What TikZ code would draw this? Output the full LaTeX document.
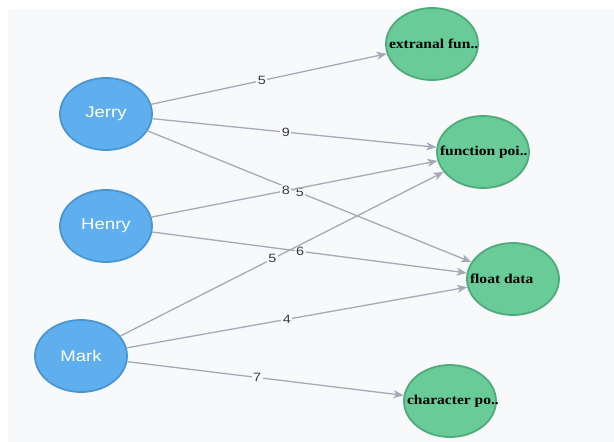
\documentclass[tikz,border=0pt]{standalone}
\usepackage{fontspec}
\usepackage{tikz}
\usetikzlibrary{shapes.geometric, arrows.meta, positioning}
\newfontfamily\personfont[FakeStretch=1.2]{Liberation Sans}
\newfontfamily\datafont[FakeStretch=1.15]{Liberation Serif}
\newcommand{\overhang}[1]{\makebox[0pt][l]{\hspace{-43pt}#1}}
\definecolor{canvasbg}{HTML}{F8F9FB}
\definecolor{personfill}{HTML}{5FAFEE}
\definecolor{personline}{HTML}{4A96D2}
\definecolor{datafill}{HTML}{68CB98}
\definecolor{dataline}{HTML}{4FAB7B}
\definecolor{linkgray}{HTML}{A7A9B6}
\definecolor{weighttext}{HTML}{3A3A3A}
\tikzset{
  person/.style={ellipse, draw=personline, fill=personfill, line width=1.8pt,
    minimum width=92pt, minimum height=72pt, inner sep=0pt, text=white,
    font=\personfont\fontsize{15.5}{15.5}\selectfont},
  datatype/.style={ellipse, draw=dataline, fill=datafill, line width=1.8pt,
    minimum width=92pt, minimum height=72pt, inner sep=0pt, text=black,
    font=\datafont\bfseries\fontsize{13.5}{13.5}\selectfont},
  link/.style={draw=linkgray, line width=1.3pt,
    -{Stealth[length=10pt, width=8pt, inset=2.5pt]}},
  weight/.style={pos=0.47, fill=canvasbg, inner sep=1.5pt, text=weighttext,
    font=\personfont\fontsize{12}{12}\selectfont}
}
\begin{document}
\begin{tikzpicture}[x=1pt, y=-1pt]
    \useasboundingbox (0,0) rectangle (614,442);
    \fill[white] (0,0) rectangle (614,442);
    \fill[canvasbg] (8,9) rectangle (614,442);
    \node[person] (jerry) at (106,114) {Jerry};
    \node[person] (henry) at (106,226) {Henry};
    \node[person] (mark) at (81,356) {Mark};
    \node[datatype] (extfun) at (432,44) {\overhang{extranal fun..}};
    \node[datatype] (funcptr) at (483,152) {\overhang{function poi..}};
    \node[datatype] (floatdata) at (513,279) {\overhang{float data}};
    \node[datatype] (charptr) at (450,401) {\overhang{character po..}};
    \draw[link] (jerry) -- node[weight] {5} (extfun);
    \draw[link] (jerry) -- node[weight] {9} (funcptr);
    \draw[link] (jerry) -- node[weight] {5} (floatdata);
    \draw[link] (henry) -- node[weight] {8} (funcptr);
    \draw[link] (henry) -- node[weight] {6} (floatdata);
    \draw[link] (mark) -- node[weight] {5} (funcptr);
    \draw[link] (mark) -- node[weight] {4} (floatdata);
    \draw[link] (mark) -- node[weight] {7} (charptr);
\end{tikzpicture}
\end{document}
